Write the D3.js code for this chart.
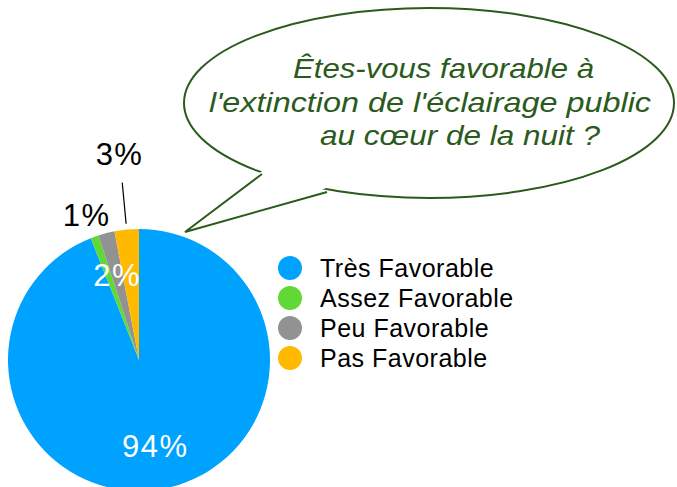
<!DOCTYPE html>
<html lang="fr">
<head>
<meta charset="UTF-8">
<title>Extinction de l'éclairage public</title>
<script src="https://d3js.org/d3.v7.min.js"></script>
<style>
  body { margin: 0; background: #fff; }
  svg { display: block; font-family: "Liberation Sans", Arial, Helvetica, sans-serif; }
</style>
</head>
<body>
<div id="chart"></div>
<script>
// Données du sondage
const categories = ["Très Favorable", "Assez Favorable", "Peu Favorable", "Pas Favorable"];
const values = [94, 1, 2, 3];
const colors = ["#00a2ff", "#61d836", "#929292", "#ffba00"];
const question = ["Êtes-vous favorable à", "l'extinction de l'éclairage public", "au cœur de la nuit ?"];

const width = 677, height = 487;
const cx = 139, cy = 360, radius = 131;

const svg = d3.select("#chart").append("svg")
    .attr("width", width)
    .attr("height", height);

// Bulle de la question
const green = "#2b5a1c";
const bubble = svg.append("g");
bubble.append("ellipse")
    .attr("cx", 429).attr("cy", 103)
    .attr("rx", 245).attr("ry", 95)
    .attr("fill", "#fff")
    .attr("stroke", green)
    .attr("stroke-width", 2);
// pointe de la bulle
bubble.append("path")
    .attr("d", "M266,168 L185,232 L333,186 Z")
    .attr("fill", "#fff");
bubble.append("path")
    .attr("d", "M262,174 L185,232 L327,192")
    .attr("fill", "none")
    .attr("stroke", green)
    .attr("stroke-width", 2)
    .attr("stroke-linejoin", "miter");

// placement des lignes de la question (x, largeur)
const qx = [293, 209, 320];
const qw = [301, 442, 280];
bubble.selectAll("text.q")
    .data(question)
    .join("text")
    .attr("class", "q")
    .attr("x", (d, i) => qx[i])
    .attr("y", (d, i) => 78 + i * 33.5)
    .attr("textLength", (d, i) => qw[i])
    .attr("lengthAdjust", "spacingAndGlyphs")
    .attr("fill", green)
    .attr("font-style", "italic")
    .attr("font-size", 28)
    .text(d => d);

// Camembert
const pie = d3.pie().sort(null).value(d => d)(values);
const arc = d3.arc().innerRadius(0).outerRadius(radius);
const g = svg.append("g").attr("transform", `translate(${cx},${cy})`);

g.selectAll("path.slice")
    .data(pie)
    .join("path")
    .attr("class", "slice")
    .attr("d", arc)
    .attr("fill", (d, i) => colors[i]);

// position des étiquettes (facteur du rayon) et couleur
const labelR = [0.665, 1.18, 0.67, 1.58];
const labelFill = ["#fff", "#000", "#fff", "#000"];
const mid = d => (d.startAngle + d.endAngle) / 2;
const polar = (a, r) => [Math.sin(a) * r, -Math.cos(a) * r];

g.selectAll("text.pct")
    .data(pie)
    .join("text")
    .attr("class", "pct")
    .attr("x", (d, i) => polar(mid(d), labelR[i] * radius)[0])
    .attr("y", (d, i) => polar(mid(d), labelR[i] * radius)[1])
    .attr("dy", "0.36em")
    .attr("text-anchor", "middle")
    .attr("font-size", 31)
    .attr("letter-spacing", 1.5)
    .attr("fill", (d, i) => labelFill[i])
    .text(d => d.value + "%");

// trait de rappel pour la plus petite tranche extérieure
const last = pie[3];
const p1 = polar(mid(last), 1.045 * radius), p2 = polar(mid(last), 1.36 * radius);
g.append("line")
    .attr("x1", p1[0]).attr("y1", p1[1])
    .attr("x2", p2[0]).attr("y2", p2[1])
    .attr("stroke", "#000")
    .attr("stroke-width", 1.2);

// Légende
const legend = svg.append("g").attr("transform", "translate(290,268)");
const item = legend.selectAll("g")
    .data(categories)
    .join("g")
    .attr("transform", (d, i) => `translate(0,${i * 30})`);
item.append("circle")
    .attr("r", 12)
    .attr("fill", (d, i) => colors[i]);
item.append("text")
    .attr("x", 30)
    .attr("y", 9)
    .attr("font-size", 25)
    .attr("letter-spacing", 0.5)
    .attr("fill", "#000")
    .text(d => d);
</script>
</body>
</html>
